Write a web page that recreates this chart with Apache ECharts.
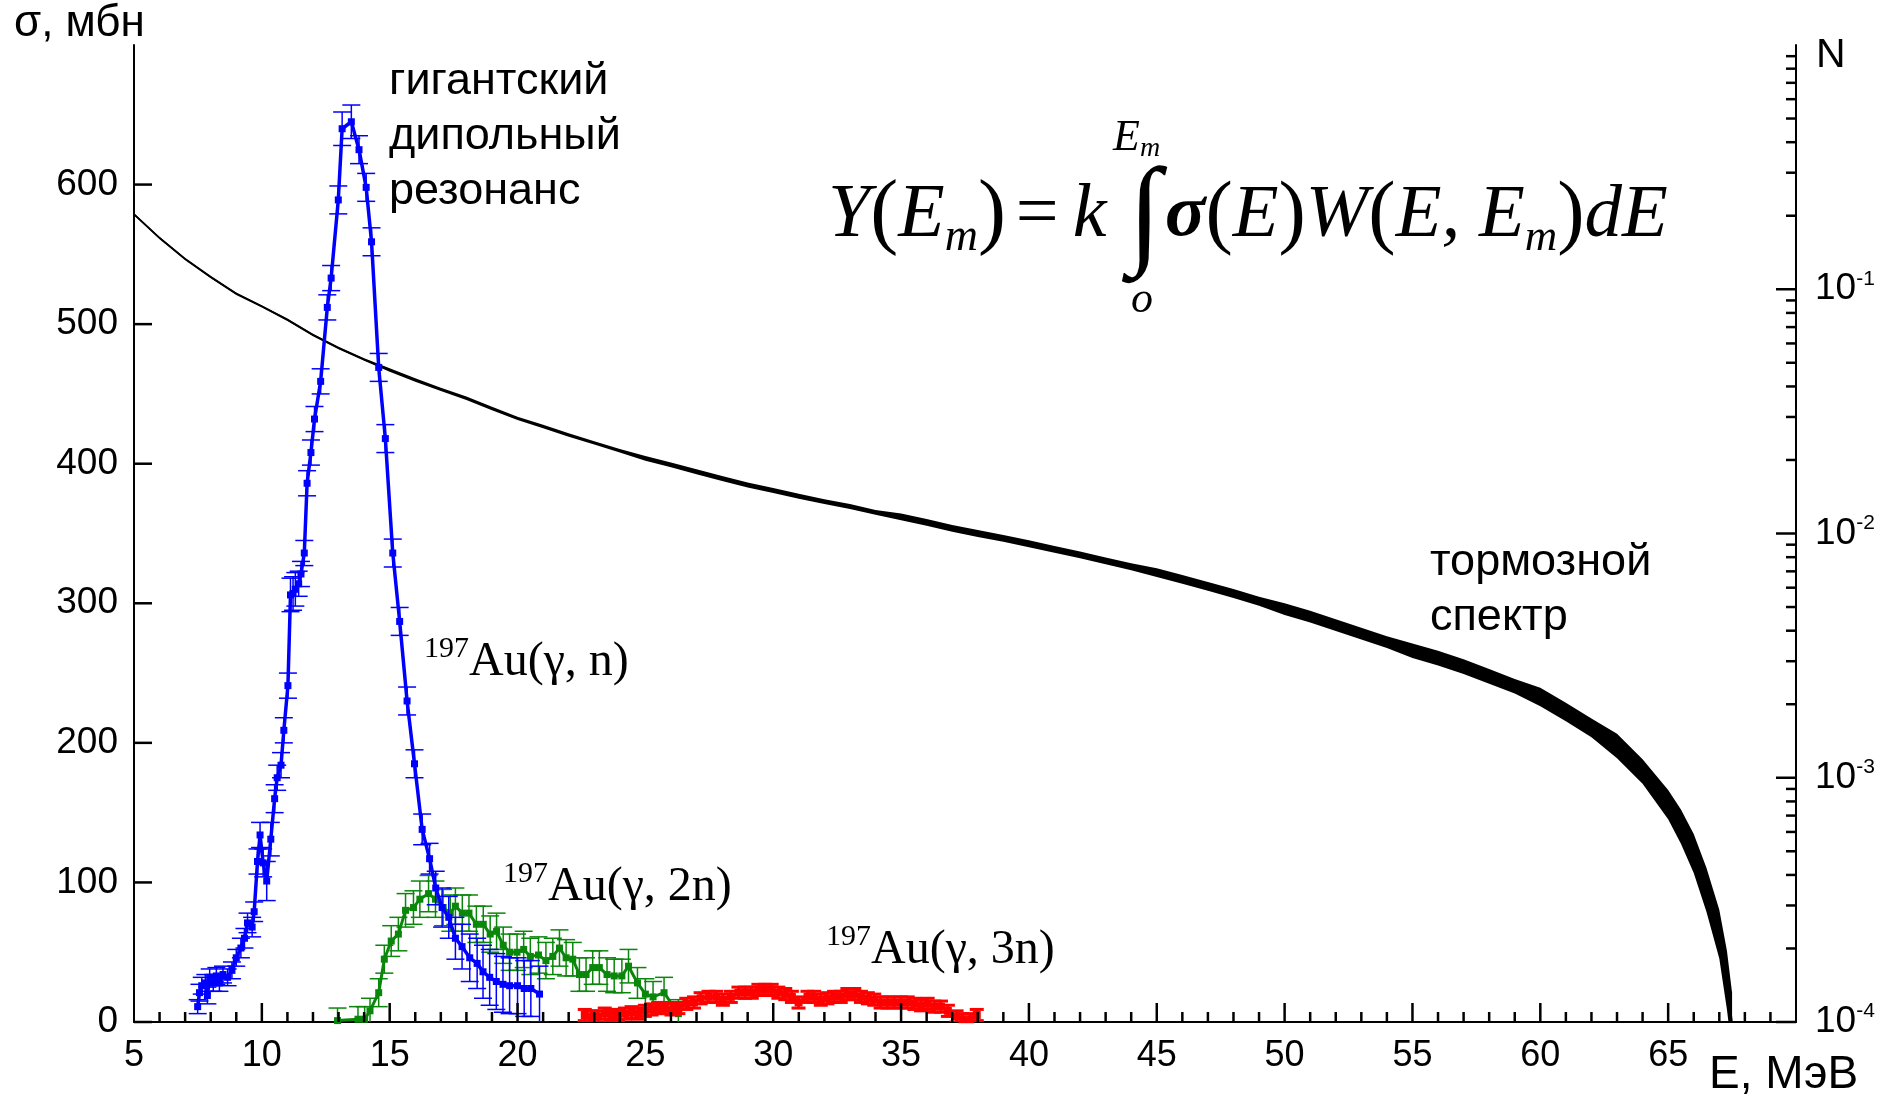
<!DOCTYPE html>
<html>
<head>
<meta charset="utf-8">
<script src="https://cdn.jsdelivr.net/npm/echarts@6/dist/echarts.min.js"></script>
<style>
  html, body { margin: 0; padding: 0; background: #fff; }
  #chart { width: 1887px; height: 1096px; }
</style>
</head>
<body>
<div id="chart"></div>
<script>
// 197Au(g,n) cross section, mb
const gnE = [7.49, 7.56, 7.65, 7.79, 7.87, 7.96, 8.10, 8.22, 8.34, 8.48, 8.66, 8.83, 9.00, 9.18, 9.32, 9.44, 9.62, 9.70, 9.83, 9.93,
  10.05, 10.19, 10.35, 10.50, 10.60, 10.75, 10.86, 11.02, 11.12, 11.22, 11.31, 11.44, 11.53, 11.66, 11.77, 11.92,
  12.06, 12.30, 12.56, 12.71, 12.99, 13.14, 13.50, 13.80, 14.08, 14.29, 14.57, 14.83, 15.12, 15.39, 15.68, 15.97,
  16.27, 16.56, 16.80, 17.05, 17.31, 17.57, 17.83, 18.13, 18.42, 18.65, 18.91, 19.17, 19.43, 19.69, 20.00, 20.26, 20.52, 20.86];
const gnSigma = [11, 21, 26, 28, 19, 32, 28, 33, 28, 34, 32, 37, 46, 53, 60, 71, 68, 79, 115, 134,
  114, 101, 131, 160, 175, 184, 209, 241, 306, 307, 310, 314, 321, 336, 386, 408,
  432, 459, 512, 533, 589, 640, 645, 625, 598, 559, 469, 418, 336, 287, 230, 185,
  138, 117, 96, 82, 75, 60, 54, 46, 42, 36, 32, 29, 27, 26, 26, 24, 24, 20];
const gnErr = [5, 6, 6, 6, 6, 6, 6, 6, 6, 6, 6, 6, 6, 7, 7, 7, 7, 7, 9, 9,
  10, 14, 12, 10, 9, 9, 9, 9, 12, 12, 12, 9, 9, 9, 9, 9,
  9, 9, 9, 9, 10, 12, 12, 10, 10, 10, 10, 10, 10, 10, 10, 10,
  11, 11, 12, 14, 15, 15, 16, 17, 18, 19, 20, 20, 20, 20, 20, 20, 20, 20];

// 197Au(g,2n)
const g2nE = [12.96, 13.76, 14.02, 14.23, 14.57, 14.79, 15.06, 15.34, 15.62, 15.93, 16.18, 16.52, 16.79, 17.09, 17.37, 17.57,
  17.84, 18.10, 18.39, 18.66, 18.93, 19.18, 19.44, 19.69, 19.98, 20.24, 20.50, 20.82, 21.11, 21.38, 21.64, 21.90,
  22.16, 22.42, 22.68, 22.94, 23.20, 23.50, 23.78, 24.08, 24.34, 24.69, 25.00, 25.30, 25.73, 26.29];
const g2nSigma = [1, 2, 2, 8, 21, 45, 58, 63, 80, 82, 88, 92, 88, 82, 78, 83,
  78, 78, 70, 70, 63, 65, 55, 50, 50, 52, 47, 48, 44, 47, 53, 46,
  45, 34, 34, 39, 39, 34, 33, 33, 40, 28, 20, 18, 21, 6];
const g2nErr = [9, 9, 9, 9, 10, 10, 11, 12, 12, 12, 13, 13, 13, 13, 13, 13,
  13, 13, 13, 13, 13, 13, 13, 13, 13, 13, 13, 13, 13, 13, 13, 13,
  12, 12, 12, 12, 12, 12, 12, 12, 12, 11, 11, 11, 11, 10];

// 197Au(g,3n)
const g3nE = [22.63, 22.89, 23.15, 23.41, 23.67, 23.93, 24.20, 24.46, 24.72, 24.98, 25.24, 25.50, 25.76, 26.02, 26.29,
  26.60, 26.90, 27.16, 27.47, 27.77, 28.03, 28.34, 28.64, 28.90, 29.16, 29.42, 29.68, 29.94, 30.20, 30.47,
  30.73, 30.99, 31.34, 31.60, 31.86, 32.12, 32.38, 32.64, 32.90, 33.17, 33.43, 33.70, 33.95, 34.20, 34.47,
  34.73, 35.00, 35.26, 35.52, 35.78, 36.04, 36.30, 36.56, 36.83, 37.17, 37.40, 37.70, 37.96];
const g3nSigma = [5, 4, 4, 6, 5, 5, 6, 7, 6, 8, 9, 10, 10, 9, 10,
  13, 14, 17, 18, 18, 16, 18, 21, 21, 21, 23, 23, 23, 21, 20,
  18, 14, 18, 18, 16, 17, 18, 18, 20, 20, 18, 17, 16, 14, 14,
  14, 14, 14, 13, 12, 13, 11, 11, 8, 4, 2, 2, 5];
const g3nErr = 4;

// bremsstrahlung spectrum N(E), right log axis; spread = half-width of the noise band, decades
const specE = [5, 6, 7, 8, 9, 10, 11, 12, 13, 14, 15, 16, 17, 18, 19, 20, 21, 22, 23, 24, 25, 26, 27, 28, 29, 30,
  31, 32, 33, 34, 35, 36, 37, 38, 39, 40, 41, 42, 43, 44, 45, 46, 47, 48, 49, 50,
  51, 52, 53, 54, 55, 56, 57, 58, 59, 60, 61, 62, 63, 64, 65, 65.5, 66, 66.5, 67, 67.3, 67.5];
const specN = [0.2028, 0.1622, 0.1330, 0.1122, 0.0959, 0.0851, 0.0750, 0.0650, 0.0575, 0.0516, 0.0467, 0.0425, 0.0389,
  0.0358, 0.0325, 0.0296, 0.0274, 0.0253, 0.0235, 0.0218, 0.0203, 0.0191, 0.0179, 0.0168, 0.0158, 0.0150,
  0.0142, 0.0135, 0.0129, 0.0122, 0.0117, 0.0111, 0.0105, 0.0100, 0.00955, 0.00908,
  0.00861, 0.00817, 0.00773, 0.00731, 0.00692, 0.00649, 0.00608, 0.00568, 0.00528, 0.00490,
  0.00457, 0.00422, 0.00389, 0.00359, 0.00331, 0.00309, 0.00285, 0.00260, 0.00237, 0.00214,
  0.00186, 0.00160, 0.00135, 0.00106, 0.000776, 0.000631, 0.000490, 0.000347, 0.000229, 0.000148, 0.0001];
const specSpread = [0.005, 0.005, 0.005, 0.005, 0.005, 0.005, 0.005, 0.005, 0.005, 0.005,
  0.007, 0.007, 0.007, 0.007, 0.007, 0.007, 0.007, 0.007, 0.007, 0.007,
  0.01, 0.01, 0.01, 0.01, 0.01, 0.01, 0.01, 0.01, 0.01, 0.01,
  0.014, 0.014, 0.014, 0.014, 0.014, 0.014, 0.014, 0.014, 0.014, 0.014,
  0.018, 0.018, 0.018, 0.018, 0.018,
  0.024, 0.024, 0.024, 0.024, 0.024,
  0.03, 0.03, 0.03, 0.03, 0.03,
  0.038, 0.038, 0.038, 0.05, 0.05, 0.06,
  0.07, 0.08, 0.09, 0.1, 0.12, 0.12];

// axes and tick marks
const xMin = 5, xMax = 70, xStep = 5;
const sigmaMax = 700, sigmaStep = 100;
const nMin = 1e-4, nMax = 1;
const sigmaTicks = [0, 100, 200, 300, 400, 500, 600];
const logDecades = [1e-4, 1e-3, 1e-2, 1e-1];
const logMantissas = [2, 3, 4, 5, 6, 7, 8, 9];

const BLUE = '#0000ff', GREEN = '#0a870a', RED = '#ff0000', BLACK = '#000';

const chart = echarts.init(document.getElementById('chart'));

function pairs(xs, ys) {
  return xs.map((x, i) => [x, ys[i]]);
}

function errRows(xs, ys, es) {
  return xs.map((x, i) => [x, ys[i], Array.isArray(es) ? es[i] : es]);
}

function errorBars(color, capHalf, lw) {
  return function (params, api) {
    const x = api.value(0), y = api.value(1), e = api.value(2);
    const hi = api.coord([x, y + e]);
    const lo = api.coord([x, y - e]);
    const st = { stroke: color, lineWidth: lw };
    return {
      type: 'group',
      children: [
        { type: 'line', shape: { x1: hi[0], y1: hi[1], x2: lo[0], y2: lo[1] }, style: st },
        { type: 'line', shape: { x1: hi[0] - capHalf, y1: hi[1], x2: hi[0] + capHalf, y2: hi[1] }, style: st },
        { type: 'line', shape: { x1: lo[0] - capHalf, y1: lo[1], x2: lo[0] + capHalf, y2: lo[1] }, style: st }
      ]
    };
  };
}

const labelFont = 'Liberation Sans';
const axisLs = () => ({ color: BLACK, width: 2 });

const texts = [
  { type: 'text', x: 14, y: 24, style: { text: 'σ, мбн', font: '44px "Liberation Sans"', fill: BLACK, verticalAlign: 'middle', textVerticalAlign: 'middle' } },
  { type: 'text', x: 1816, y: 56, style: { text: 'N', font: '41px "Liberation Sans"', fill: BLACK, verticalAlign: 'middle', textVerticalAlign: 'middle' } },
  { type: 'text', x: 1709, y: 1075, style: { text: 'E, МэВ', font: '46px "Liberation Sans"', fill: BLACK, verticalAlign: 'middle', textVerticalAlign: 'middle' } },
  { type: 'text', x: 389, y: 137, style: { text: 'гигантский\nдипольный\nрезонанс', font: '45px "Liberation Sans"', lineHeight: 55, fill: BLACK, verticalAlign: 'middle', textVerticalAlign: 'middle' } },
  { type: 'text', x: 1430, y: 590, style: { text: 'тормозной\nспектр', font: '45px "Liberation Sans"', lineHeight: 55, fill: BLACK, verticalAlign: 'middle', textVerticalAlign: 'middle' } },
  {
    type: 'text', x: 424, y: 662,
    style: { text: '{u|197}{t|Au(γ, n)}', verticalAlign: 'middle', textVerticalAlign: 'middle',
      rich: { t: { font: '48px "Liberation Serif"', fill: BLACK, lineHeight: 56 },
              u: { font: '30px "Liberation Serif"', fill: BLACK, lineHeight: 36, verticalAlign: 'top' } } }
  },
  {
    type: 'text', x: 503, y: 887,
    style: { text: '{u|197}{t|Au(γ, 2n)}', verticalAlign: 'middle', textVerticalAlign: 'middle',
      rich: { t: { font: '48px "Liberation Serif"', fill: BLACK, lineHeight: 56 },
              u: { font: '30px "Liberation Serif"', fill: BLACK, lineHeight: 36, verticalAlign: 'top' } } }
  },
  {
    type: 'text', x: 826, y: 950,
    style: { text: '{u|197}{t|Au(γ, 3n)}', verticalAlign: 'middle', textVerticalAlign: 'middle',
      rich: { t: { font: '48px "Liberation Serif"', fill: BLACK, lineHeight: 56 },
              u: { font: '30px "Liberation Serif"', fill: BLACK, lineHeight: 36, verticalAlign: 'top' } } }
  },
  // formula
  {
    type: 'text', x: 828, y: 216,
    style: { text: '{i|Y}{p|(}{i|E}{s|m}{p|)}{n|=}{i|k}', verticalAlign: 'middle', textVerticalAlign: 'middle',
      rich: {
        i: { font: 'italic 76px "Liberation Serif"', fill: BLACK, lineHeight: 90 },
        p: { font: '84px "Liberation Serif"', fill: BLACK, lineHeight: 90 },
        n: { font: '76px "Liberation Serif"', fill: BLACK, lineHeight: 90, padding: [0, 14, 0, 10] },
        s: { font: 'italic 46px "Liberation Serif"', fill: BLACK, lineHeight: 50, verticalAlign: 'bottom' }
      } }
  },
  { type: 'text', x: 1128, y: 219, style: { text: '∫', font: '120px "Liberation Serif"', fill: BLACK, verticalAlign: 'middle', textVerticalAlign: 'middle' } },
  {
    type: 'text', x: 1113, y: 138,
    style: { text: '{i|E}{s|m}', verticalAlign: 'middle', textVerticalAlign: 'middle',
      rich: {
        i: { font: 'italic 44px "Liberation Serif"', fill: BLACK, lineHeight: 50 },
        s: { font: 'italic 28px "Liberation Serif"', fill: BLACK, lineHeight: 30, verticalAlign: 'bottom' }
      } }
  },
  { type: 'text', x: 1131, y: 300, style: { text: 'o', font: 'italic 44px "Liberation Serif"', fill: BLACK, verticalAlign: 'middle', textVerticalAlign: 'middle' } },
  {
    type: 'text', x: 1165, y: 216,
    style: { text: '{g|σ}{p|(}{i|E}{p|)}{i|W}{p|(}{i|E, E}{s|m}{p|)}{i|dE}', verticalAlign: 'middle', textVerticalAlign: 'middle',
      rich: {
        g: { font: 'italic bold 75px "Liberation Serif"', fill: BLACK, lineHeight: 90 },
        i: { font: 'italic 75px "Liberation Serif"', fill: BLACK, lineHeight: 90 },
        p: { font: '82px "Liberation Serif"', fill: BLACK, lineHeight: 90 },
        s: { font: 'italic 45px "Liberation Serif"', fill: BLACK, lineHeight: 50, verticalAlign: 'bottom' }
      } }
  }
];

const option = {
  animation: false,
  backgroundColor: '#fff',
  grid: { left: 134, right: 91, top: 45, bottom: 74 },
  xAxis: {
    type: 'value', min: xMin, max: xMax, interval: xStep,
    axisLine: { show: true, onZero: false, lineStyle: axisLs() },
    axisTick: { show: false },
    axisLabel: { color: BLACK, fontSize: 36, fontFamily: labelFont, margin: 16,
      formatter: v => (v === xMax ? '' : String(v)) },
    splitLine: { show: false }
  },
  yAxis: [
    {
      type: 'value', min: 0, max: sigmaMax, interval: sigmaStep, position: 'left',
      axisLine: { show: true, onZero: false, lineStyle: axisLs() },
      axisTick: { show: false },
      axisLabel: { color: BLACK, fontSize: 37, fontFamily: labelFont, margin: 16,
        formatter: v => (v === sigmaMax ? '' : String(v)) },
      splitLine: { show: false }
    },
    {
      type: 'log', logBase: 10, min: nMin, max: nMax, position: 'right',
      axisLine: { show: true, onZero: false, lineStyle: axisLs() },
      axisTick: { show: false },
      axisLabel: {
        margin: 19,
        formatter: v => {
          const p = Math.round(Math.log10(v));
          return p === 0 ? '' : '{b|10}{s|' + p + '}';
        },
        rich: {
          b: { fontSize: 37, fontFamily: labelFont, color: BLACK, lineHeight: 42 },
          s: { fontSize: 21, fontFamily: labelFont, color: BLACK, lineHeight: 22, verticalAlign: 'top' }
        }
      },
      splitLine: { show: false }
    }
  ],
  series: [
    {
      type: 'custom', yAxisIndex: 1, clip: true, silent: true, z: 1,
      data: [[specE[0], specN[0]]],
      renderItem: function (params, api) {
        const up = specE.map((e, i) => api.coord([e, specN[i] * Math.pow(10, specSpread[i])]));
        const dn = specE.map((e, i) => api.coord([e, specN[i] / Math.pow(10, specSpread[i])])).reverse();
        return { type: 'polygon', shape: { points: up.concat(dn) }, style: { fill: BLACK } };
      }
    },
    {
      type: 'line', yAxisIndex: 1, data: pairs(specE, specN), showSymbol: false, z: 2,
      lineStyle: { color: BLACK, width: 1.5 }, silent: true
    },
    {
      type: 'custom', clip: true, z: 3, silent: true,
      data: errRows(g2nE, g2nSigma, g2nErr), renderItem: errorBars(GREEN, 9, 1.5)
    },
    {
      type: 'line', data: pairs(g2nE, g2nSigma), z: 4, symbol: 'rect', symbolSize: 7,
      lineStyle: { color: GREEN, width: 3 }, itemStyle: { color: GREEN }
    },
    {
      type: 'custom', clip: true, z: 5, silent: true,
      data: errRows(gnE, gnSigma, gnErr), renderItem: errorBars(BLUE, 9, 1.5)
    },
    {
      type: 'line', data: pairs(gnE, gnSigma), z: 6, symbol: 'rect', symbolSize: 7,
      lineStyle: { color: BLUE, width: 3.5 }, itemStyle: { color: BLUE }
    },
    {
      type: 'custom', clip: true, z: 7, silent: true,
      data: errRows(g3nE, g3nSigma, g3nErr), renderItem: errorBars(RED, 7, 3)
    },
    {
      type: 'line', data: pairs(g3nE, g3nSigma), z: 8, symbol: 'rect', symbolSize: 8,
      lineStyle: { color: RED, width: 4 }, itemStyle: { color: RED }
    }
  ],
  graphic: { elements: texts }
};

chart.setOption(option);

// tick marks pointing into the plot, placed through the chart's own scales
const toSigma = v => chart.convertToPixel({ xAxisIndex: 0, yAxisIndex: 0 }, v);
const toN = v => chart.convertToPixel({ xAxisIndex: 0, yAxisIndex: 1 }, v);
const tickStyle = { stroke: BLACK, lineWidth: 2.5 };
const ticks = [];
function addTick(p, dx, dy) {
  ticks.push({ type: 'line', z: 100, silent: true,
    shape: { x1: p[0], y1: p[1], x2: p[0] + dx, y2: p[1] + dy }, style: tickStyle });
}
for (let v = xMin + 1; v < xMax; v += 1) {
  addTick(toSigma([v, 0]), 0, (v - xMin) % xStep === 0 ? -19 : -10);
}
sigmaTicks.forEach(v => addTick(toSigma([xMin, v]), 18, 0));
logDecades.forEach(d => {
  addTick(toN([xMax, d]), -20, 0);
  logMantissas.forEach(m => addTick(toN([xMax, d * m]), -10, 0));
});

chart.setOption({ graphic: { elements: texts.concat(ticks) } });
</script>
</body>
</html>
